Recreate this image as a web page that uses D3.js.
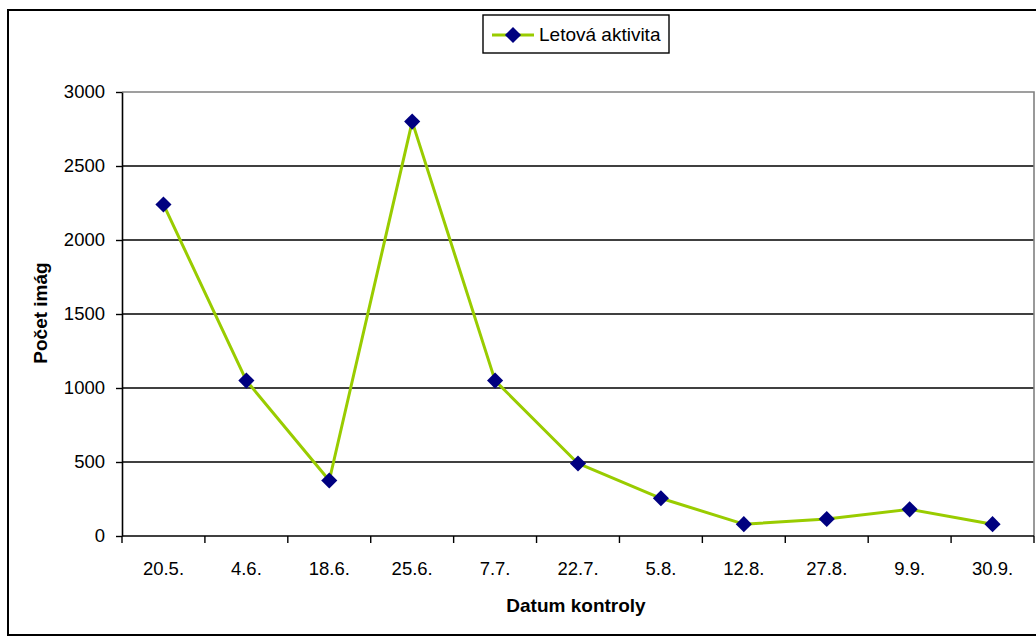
<!DOCTYPE html>
<html>
<head>
<meta charset="utf-8">
<script src="https://cdn.jsdelivr.net/npm/d3@7"></script>
<style>
  html, body { margin: 0; padding: 0; background: #fff; }
  svg { display: block; font-family: "Liberation Sans", Arial, sans-serif; }
</style>
</head>
<body>
<svg id="chart" width="1036" height="636"></svg>
<script>
// Sampling dates and counted flying individuals
const categories = ["20.5.", "4.6.", "18.6.", "25.6.", "7.7.", "22.7.", "5.8.", "12.8.", "27.8.", "9.9.", "30.9."];
const values = [2240, 1050, 375, 2800, 1050, 490, 255, 80, 115, 180, 80];
const yTicks = [0, 500, 1000, 1500, 2000, 2500, 3000];
const seriesName = "Letová aktivita";
const xTitle = "Datum kontroly";
const yTitle = "Počet imág";

const FONT = "Liberation Sans, Arial, sans-serif";
const svg = d3.select("#chart");
const plot = { left: 122, right: 1034, top: 92, bottom: 536 };

// Outer chart frame
svg.append("rect")
  .attr("x", 8).attr("y", 10)
  .attr("width", 1040).attr("height", 625)
  .attr("fill", "#fff").attr("stroke", "#000").attr("stroke-width", 2);

const x = d3.scaleBand().domain(categories).range([plot.left, plot.right]);
const y = d3.scaleLinear().domain([0, 3000]).range([plot.bottom, plot.top]);

// Horizontal gridlines
svg.append("g")
  .selectAll("line")
  .data(yTicks.filter(t => t > 0 && t < 3000))
  .join("line")
  .attr("x1", plot.left).attr("x2", plot.right)
  .attr("y1", d => y(d)).attr("y2", d => y(d))
  .attr("stroke", "#000").attr("stroke-width", 1.6);

// Plot area border (top and right)
svg.append("path")
  .attr("d", `M${plot.left},${plot.top}H${plot.right}V${plot.bottom}`)
  .attr("fill", "none").attr("stroke", "#808080").attr("stroke-width", 1.6);

// Y axis
const yAxis = svg.append("g")
  .attr("transform", `translate(${plot.left},0)`)
  .call(d3.axisLeft(y).tickValues(yTicks).tickFormat(d3.format("d"))
    .tickSize(6).tickSizeOuter(0).tickPadding(11));
yAxis.select(".domain").attr("stroke", "#000").attr("stroke-width", 1.6);
yAxis.selectAll(".tick line").attr("stroke", "#000").attr("stroke-width", 1.4);
yAxis.selectAll(".tick text")
  .attr("font-size", 18.5).attr("fill", "#000")
  .attr("font-family", FONT);

// X axis with ticks between categories
const xAxisG = svg.append("g").attr("transform", `translate(0,${plot.bottom})`);
xAxisG.append("line")
  .attr("x1", plot.left).attr("x2", plot.right)
  .attr("stroke", "#000").attr("stroke-width", 1.6);
const boundaries = categories.map(c => x(c)).concat([x(categories[categories.length - 1]) + x.bandwidth()]);
xAxisG.selectAll("line.tk")
  .data(boundaries)
  .join("line").attr("class", "tk")
  .attr("x1", d => d).attr("x2", d => d)
  .attr("y1", 0).attr("y2", 7)
  .attr("stroke", "#000").attr("stroke-width", 1.4);
xAxisG.selectAll("text")
  .data(categories)
  .join("text")
  .attr("x", d => x(d) + x.bandwidth() / 2)
  .attr("y", 39)
  .attr("text-anchor", "middle")
  .attr("font-size", 18.5)
  .attr("font-family", FONT)
  .attr("fill", "#000")
  .text(d => d);

// Series line
const line = d3.line()
  .x((d, i) => x(categories[i]) + x.bandwidth() / 2)
  .y(d => y(d));
svg.append("path")
  .datum(values)
  .attr("d", line)
  .attr("fill", "none")
  .attr("stroke", "#99CC00")
  .attr("stroke-width", 3)
  .attr("stroke-linejoin", "round");

// Diamond markers
const diamond = d3.symbol().type(d3.symbolSquare).size(130);
svg.append("g")
  .selectAll("path")
  .data(values)
  .join("path")
  .attr("d", diamond)
  .attr("transform", (d, i) => `translate(${x(categories[i]) + x.bandwidth() / 2},${y(d)}) rotate(45)`)
  .attr("fill", "#000080");

// Axis titles
svg.append("text")
  .attr("x", 576).attr("y", 612)
  .attr("text-anchor", "middle")
  .attr("font-size", 19).attr("font-weight", "bold")
  .attr("font-family", FONT)
  .text(xTitle);
svg.append("text")
  .attr("transform", "translate(47,313) rotate(-90)")
  .attr("text-anchor", "middle")
  .attr("font-size", 19).attr("font-weight", "bold")
  .attr("font-family", FONT)
  .text(yTitle);

// Legend
const legend = svg.append("g");
legend.append("rect")
  .attr("x", 483).attr("y", 15)
  .attr("width", 186).attr("height", 38)
  .attr("fill", "#fff").attr("stroke", "#000").attr("stroke-width", 1.4);
legend.append("line")
  .attr("x1", 492).attr("x2", 534).attr("y1", 35).attr("y2", 35)
  .attr("stroke", "#99CC00").attr("stroke-width", 3);
legend.append("path")
  .attr("d", diamond)
  .attr("transform", "translate(513,35) rotate(45)")
  .attr("fill", "#000080");
legend.append("text")
  .attr("x", 539).attr("y", 41)
  .attr("font-size", 19)
  .attr("font-family", FONT)
  .text(seriesName);
</script>
</body>
</html>
